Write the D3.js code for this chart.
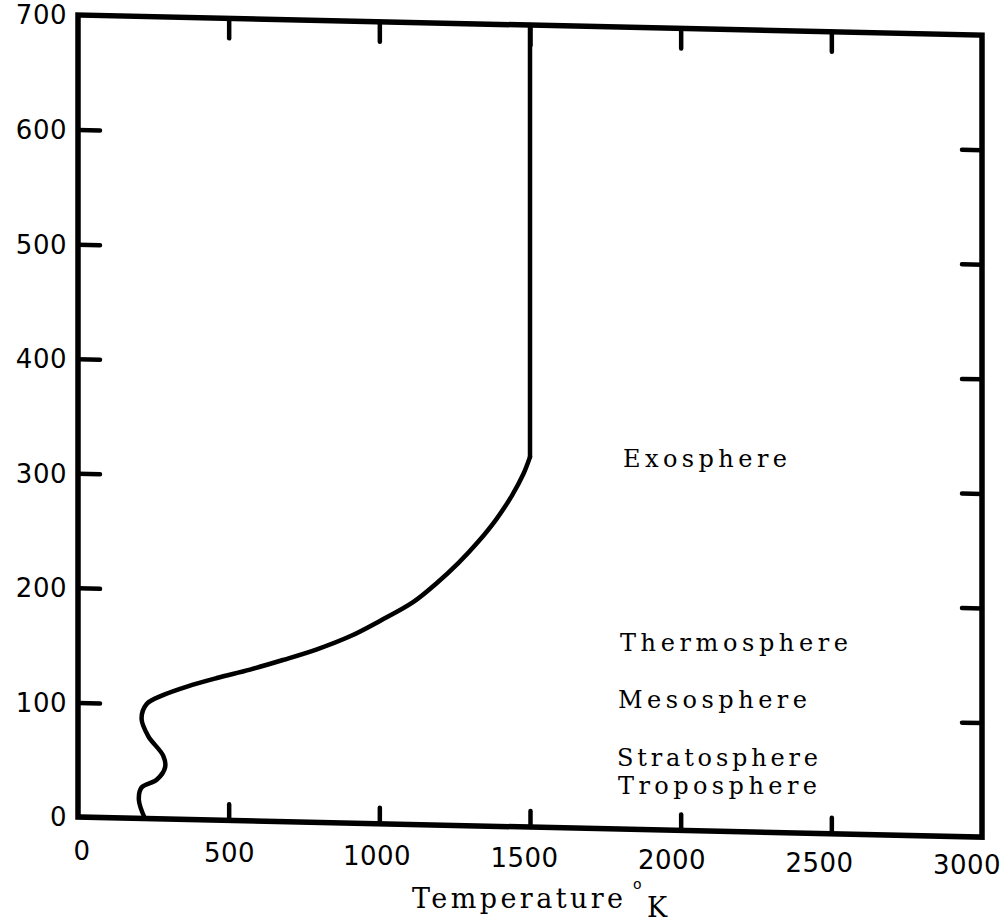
<!DOCTYPE html>
<html>
<head>
<meta charset="utf-8">
<script src="https://cdn.jsdelivr.net/npm/d3@7"></script>
<style>
  html, body { margin: 0; padding: 0; background: #fff; }
  svg { display: block; }
</style>
</head>
<body>
<script>
// ---- data ----
const temperatureK = [222, 202, 211, 261, 289, 283, 233, 211, 228, 282, 362, 461, 571, 680, 793, 903, 1002, 1112, 1190, 1262, 1328, 1388, 1440, 1478, 1500, 1500];
const altitudeKm   = [0, 16, 27, 34, 45, 55, 72, 87, 100, 108, 116, 124, 132, 141, 151, 163, 177, 194, 211, 229, 248, 268, 289, 308, 323, 700];
const xTickValues = [0, 500, 1000, 1500, 2000, 2500, 3000];
const yTickValues = [0, 100, 200, 300, 400, 500, 600, 700];
const layerNames = ["Exosphere", "Thermosphere", "Mesosphere", "Stratosphere", "Troposphere"];
const xTitle = "Temperature";
const xUnitSup = "o";
const xUnit = "K";

// ---- layout ----
const W = 1008, H = 922;
const svg = d3.select("body").append("svg").attr("width", W).attr("height", H);
const x = d3.scaleLinear().domain([0, 3000]).range([78, 982]);
const y = d3.scaleLinear().domain([0, 700]).range([817, 15]);
const skewDeg = Math.atan(0.0223) * 180 / Math.PI;

const g = svg.append("g")
  .attr("transform", `translate(78,0) skewY(${skewDeg}) translate(-78,0)`);

const ink = "#000";
const innerX = xTickValues.slice(1, -1);
const innerY = yTickValues.slice(1, -1);

function styleAxis(sel) {
  sel.select(".domain").remove();
  sel.selectAll(".tick line").attr("stroke", ink).attr("stroke-width", 4.5).attr("stroke-linecap", "round");
  sel.selectAll(".tick text").remove();
}
g.append("g").attr("transform", `translate(0,${y(0)})`)
  .call(d3.axisBottom(x).tickValues(innerX).tickSize(-16).tickFormat(""))
  .call(styleAxis);
g.append("g").attr("transform", `translate(0,${y(700)})`)
  .call(d3.axisTop(x).tickValues(innerX).tickSize(-20).tickFormat(""))
  .call(styleAxis);
g.append("g").attr("transform", `translate(${x(0)},0)`)
  .call(d3.axisLeft(y).tickValues(innerY).tickSize(-22).tickFormat(""))
  .call(styleAxis);
g.append("g").attr("transform", `translate(${x(3000)},0)`)
  .call(d3.axisRight(y).tickValues(innerY).tickSize(-20).tickFormat(""))
  .call(styleAxis);

// frame
g.append("path")
  .attr("d", `M${x(0)},${y(700)}H${x(3000)}V${y(0)}H${x(0)}Z`)
  .attr("fill", "none").attr("stroke", ink).attr("stroke-width", 5.5)
  .attr("stroke-linejoin", "miter");

// profile curve: smooth lower part, straight isothermal top
const pts = temperatureK.map((t, i) => [t, altitudeKm[i]]);
const curved = pts.slice(0, -1);
const isothermal = pts.slice(-2);
const smooth = d3.line().x(d => x(d[0])).y(d => y(d[1])).curve(d3.curveCatmullRom.alpha(0.5));
const straight = d3.line().x(d => x(d[0])).y(d => y(d[1]));
[smooth(curved), straight(isothermal)].forEach(dpath => {
  g.append("path")
    .attr("d", dpath)
    .attr("fill", "none").attr("stroke", ink).attr("stroke-width", 4.5)
    .attr("stroke-linejoin", "round").attr("stroke-linecap", "round");
});

// ---- text ----
const numFont = "'DejaVu Sans', sans-serif";
const serif = "'DejaVu Serif', serif";

// y tick labels
svg.append("g").selectAll("text").data(yTickValues).join("text")
  .attr("x", 67).attr("y", d => y(d)).attr("dy", "0.36em")
  .attr("text-anchor", "end").attr("font-family", numFont).attr("font-size", 26)
  .attr("letter-spacing", 0.5)
  .attr("fill", ink).text(d => d);

// x tick labels (printed slightly compressed and following the page tilt)
const xl = d3.scaleLinear().domain([0, 3000]).range([82, 967]);
const xb = d3.scaleLinear().domain([0, 3000]).range([860, 874]);
svg.append("g").selectAll("text").data(xTickValues).join("text")
  .attr("x", d => xl(d)).attr("y", d => xb(d))
  .attr("text-anchor", "middle").attr("font-family", numFont).attr("font-size", 26)
  .attr("letter-spacing", 0.5)
  .attr("fill", ink).text(d => d);

// layer labels
const layerPos = [
  { x: 623, y: 467, w: 164 },
  { x: 620, y: 651, w: 228 },
  { x: 618, y: 708, w: 189 },
  { x: 617, y: 766, w: 201 },
  { x: 618, y: 794, w: 199 }
];
svg.append("g").selectAll("text").data(layerNames).join("text")
  .attr("x", (d, i) => layerPos[i].x).attr("y", (d, i) => layerPos[i].y)
  .attr("textLength", (d, i) => layerPos[i].w).attr("lengthAdjust", "spacing")
  .attr("font-family", serif).attr("font-size", 24).attr("fill", ink).text(d => d);

// axis title
svg.append("text").attr("x", 412).attr("y", 908)
  .attr("textLength", 211).attr("lengthAdjust", "spacing")
  .attr("font-family", serif).attr("font-size", 27).attr("fill", ink).text(xTitle);
svg.append("text").attr("x", 633).attr("y", 889)
  .attr("font-family", numFont).attr("font-size", 14).attr("fill", ink).text(xUnitSup);
svg.append("text").attr("x", 647).attr("y", 917)
  .attr("font-family", serif).attr("font-size", 27).attr("fill", ink).text(xUnit);
</script>
</body>
</html>
